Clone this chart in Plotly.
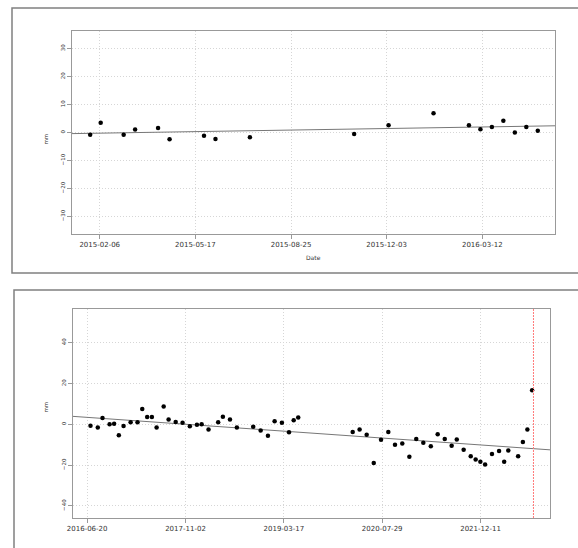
import plotly.graph_objects as go

# ---------------- data: top panel ----------------
top_dates = ["2015-01-27", "2015-02-07", "2015-03-03", "2015-03-15", "2015-04-08",
             "2015-04-20", "2015-05-26", "2015-06-07", "2015-07-13", "2015-10-30",
             "2015-12-05", "2016-01-21", "2016-02-27", "2016-03-10", "2016-03-22",
             "2016-04-03", "2016-04-15", "2016-04-27", "2016-05-09"]
top_mm = [-0.8, 3.5, -0.8, 1.1, 1.6, -2.4, -1.2, -2.3, -1.7, -0.5,
          2.6, 6.9, 2.6, 1.2, 2.0, 4.2, 0.0, 2.0, 0.6]
top_trend_dates = ["2015-01-08", "2016-05-27"]
top_trend_mm = [-0.4, 2.4]
top_xticks = ["2015-02-06", "2015-05-17", "2015-08-25", "2015-12-03", "2016-03-12"]
top_yticks = [-30, -20, -10, 0, 10, 20, 30]

# ---------------- data: bottom panel ----------------
bot_dates = ["2016-07-07", "2016-08-13", "2016-09-06", "2016-10-12", "2016-11-04",
             "2016-11-28", "2016-12-22", "2017-01-27", "2017-03-03", "2017-03-27",
             "2017-04-21", "2017-05-15", "2017-06-08", "2017-07-14", "2017-08-08",
             "2017-09-13", "2017-10-18", "2017-11-24", "2017-12-30", "2018-01-23",
             "2018-02-27", "2018-04-17", "2018-05-11", "2018-06-16", "2018-07-21",
             "2018-10-12", "2018-11-19", "2018-12-26", "2019-01-29", "2019-03-07",
             "2019-04-12", "2019-05-06", "2019-05-29", "2020-03-01", "2020-04-05",
             "2020-05-11", "2020-06-16", "2020-07-23", "2020-08-29", "2020-10-02",
             "2020-11-08", "2020-12-14", "2021-01-18", "2021-02-23", "2021-04-02",
             "2021-05-07", "2021-06-12", "2021-07-17", "2021-08-12", "2021-09-16",
             "2021-10-22", "2021-11-16", "2021-12-10", "2022-01-03", "2022-02-07",
             "2022-03-15", "2022-04-10", "2022-05-01", "2022-06-20", "2022-07-14",
             "2022-08-06", "2022-08-30"]
bot_mm = [-0.7, -1.5, 3.1, 0.0, 0.3, -5.4, -0.8, 1.0, 1.0, 7.5,
          3.6, 3.6, -1.6, 8.7, 2.3, 1.1, 0.8, -1.0, -0.2, 0.0,
          -2.6, 1.0, 3.7, 2.3, -1.5, -1.2, -3.0, -5.6, 1.5, 0.8,
          -3.9, 2.0, 3.3, -3.8, -2.5, -5.1, -18.9, -7.6, -3.8, -10.0,
          -9.4, -15.9, -7.2, -9.0, -10.7, -4.9, -7.2, -10.5, -7.4, -12.5,
          -15.6, -17.2, -18.4, -19.7, -14.6, -13.1, -18.4, -12.8, -15.7, -8.7,
          -2.6, 16.7]
bot_trend_dates = ["2016-04-09", "2022-11-29"]
bot_trend_mm = [3.9, -12.5]
bot_xticks = ["2016-06-20", "2017-11-02", "2019-03-17", "2020-07-29", "2021-12-11"]
bot_yticks = [-40, -20, 0, 20, 40]
event_date = "2022-09-06"

W, H = 578, 548
FONT = "DejaVu Sans"
TXT = "#333333"

fig = go.Figure()

fig.add_trace(go.Scatter(x=top_trend_dates, y=top_trend_mm, mode="lines",
                         line=dict(color="#777777", width=1), xaxis="x", yaxis="y",
                         showlegend=False, hoverinfo="skip"))
fig.add_trace(go.Scatter(x=top_dates, y=top_mm, mode="markers",
                         marker=dict(color="black", size=4.5), xaxis="x", yaxis="y",
                         showlegend=False))
fig.add_trace(go.Scatter(x=bot_trend_dates, y=bot_trend_mm, mode="lines",
                         line=dict(color="#777777", width=1), xaxis="x2", yaxis="y2",
                         showlegend=False, hoverinfo="skip"))
fig.add_trace(go.Scatter(x=bot_dates, y=bot_mm, mode="markers",
                         marker=dict(color="black", size=4.5), xaxis="x2", yaxis="y2",
                         showlegend=False))

GRID = dict(showgrid=True, gridcolor="#d6d6d6", griddash="1px,2px", gridwidth=1)
common_x = dict(type="date", showline=True, mirror=True, linecolor="#999999", linewidth=1,
                ticks="outside", ticklen=4, tickcolor="#999999", automargin=False,
                tickfont=dict(family=FONT, size=7, color=TXT), zeroline=False, **GRID)
common_y = dict(showline=True, mirror=True, linecolor="#999999", linewidth=1,
                ticks="outside", ticklen=4, tickcolor="#999999", automargin=False,
                tickfont=dict(family=FONT, size=5.5, color=TXT), zeroline=False,
                tickangle=-90, **GRID)

fig.update_layout(
    width=W, height=H,
    margin=dict(l=0, r=0, t=0, b=0, pad=0),
    paper_bgcolor="white", plot_bgcolor="white",
    xaxis=dict(common_x, domain=[72 / W, 555 / W], anchor="y",
               range=["2015-01-08", "2016-05-27"],
               tickvals=top_xticks, ticktext=top_xticks),
    yaxis=dict(common_y, domain=[1 - 234 / H, 1 - 31 / H], anchor="x",
               range=[-36.3, 36.3], tickvals=top_yticks),
    xaxis2=dict(common_x, domain=[73 / W, 550 / W], anchor="y2",
                range=["2016-04-09", "2022-11-29"],
                tickvals=bot_xticks, ticktext=bot_xticks),
    yaxis2=dict(common_y, domain=[1 - 518 / H, 1 - 309 / H], anchor="x2",
                range=[-45.9, 56.5], tickvals=bot_yticks),
)

# red dotted event line
fig.add_shape(type="line", xref="x2", yref="y2 domain", x0=event_date, x1=event_date,
              y0=0, y1=1, line=dict(color="#ff7a7a", width=1, dash="2px,1px"))

# outer frames
fig.add_shape(type="rect", xref="paper", yref="paper",
              x0=12 / W, x1=1.02, y0=1 - 273 / H, y1=1 - 8 / H,
              line=dict(color="#808080", width=1.5))
fig.add_shape(type="rect", xref="paper", yref="paper",
              x0=14 / W, x1=1.02, y0=-0.05, y1=1 - 290 / H,
              line=dict(color="#808080", width=1.5))

# axis titles
fig.add_annotation(text="mm", xref="paper", yref="paper", x=40 / W, y=1 - 132 / H,
                   showarrow=False, textangle=-90,
                   font=dict(family=FONT, size=5.5, color=TXT))
fig.add_annotation(text="mm", xref="paper", yref="paper", x=40 / W, y=1 - 415 / H,
                   showarrow=False, textangle=-90,
                   font=dict(family=FONT, size=5.5, color=TXT))
fig.add_annotation(text="Date", xref="paper", yref="paper", x=313 / W, y=1 - 257 / H,
                   showarrow=False, font=dict(family=FONT, size=6, color=TXT))

fig.write_html("out.html", config={"displayModeBar": False},
               post_script="document.body.style.margin='0';document.body.style.overflow='hidden';")
